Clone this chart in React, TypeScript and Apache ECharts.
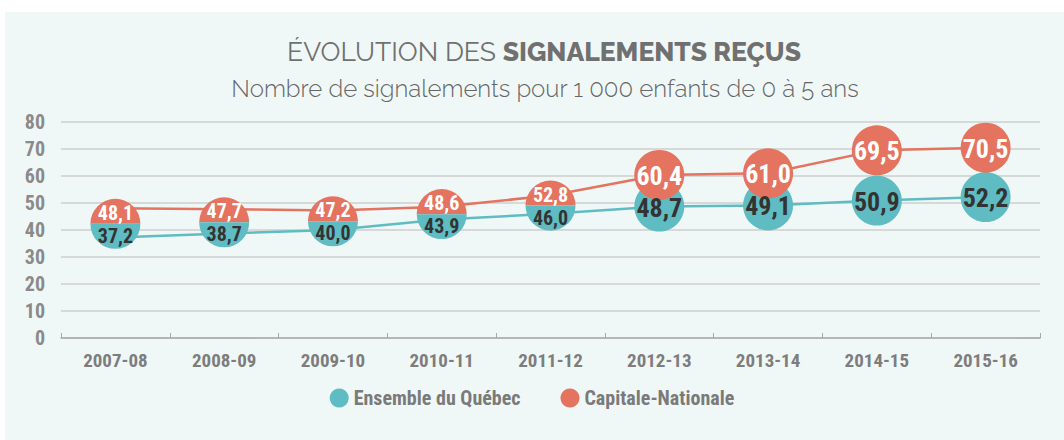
import React, { useEffect, useRef } from "react";
import * as echarts from "echarts";

const categories = ["2007-08", "2008-09", "2009-10", "2010-11", "2011-12", "2012-13", "2013-14", "2014-15", "2015-16"];
const quebec = [37.2, 38.7, 40.0, 43.9, 46.0, 48.7, 49.1, 50.9, 52.2];
const capitale = [48.1, 47.7, 47.2, 48.6, 52.8, 60.4, 61.0, 69.5, 70.5];
const seriesNames = ["Ensemble du Québec", "Capitale-Nationale"];
const yMin = 0;
const yMax = 80;
const yInterval = 10;
const titleLight = "ÉVOLUTION DES ";
const titleBold = "SIGNALEMENTS REÇUS";
const subtitle = "Nombre de signalements pour 1 000 enfants de 0 à 5 ans";

const TEAL = "#5fbcc2";
const RED = "#e4735f";
const COND = "'Roboto Condensed', 'Open Sans Condensed', sans-serif";
const TITLE_FONT = "Raleway, Lato, sans-serif";
const fmt = (v: number) => v.toFixed(1).replace(".", ",");

export default function App() {
  const ref = useRef<HTMLDivElement>(null);
  useEffect(() => {
    if (!ref.current) return;
    const chart = echarts.init(ref.current, null, { renderer: "svg" });
    const R = 25;
    const option: any = {
      animation: false,
      backgroundColor: "#ffffff",
      graphic: [
        {
          type: "rect",
          z: -10,
          silent: true,
          shape: { x: 5, y: 12, width: 1059, height: 428 },
          style: { fill: "#f0f8f7" },
        },
        {
          type: "text",
          x: 544,
          y: 51,
          style: {
            text: "{a|" + titleLight + "}{b|" + titleBold + "}",
            align: "center",
            verticalAlign: "middle",
            rich: {
              a: { fontFamily: TITLE_FONT, fontWeight: 400, fontSize: 26.5, fill: "#707070" },
              b: { fontFamily: TITLE_FONT, fontWeight: 800, fontSize: 26.5, fill: "#707070" },
            },
          },
        },
        {
          type: "text",
          x: 545,
          y: 88,
          style: {
            text: subtitle,
            align: "center",
            verticalAlign: "middle",
            fontFamily: TITLE_FONT,
            fontWeight: 300,
            fontSize: 24,
            fill: "#666666",
          },
        },
      ],
      grid: { left: 61, right: 24, top: 122, bottom: 102 },
      legend: {
        data: seriesNames.map((n) => ({ name: n, icon: "circle" })),
        bottom: 27,
        left: "center",
        itemWidth: 19,
        itemHeight: 19,
        itemGap: 40,
        textStyle: { fontFamily: COND, fontWeight: "bold", fontSize: 20, color: "#7a7a7a" },
      },
      xAxis: {
        type: "category",
        data: categories,
        boundaryGap: true,
        axisLine: { lineStyle: { color: "#a8a8a8", width: 1.5 } },
        axisTick: { show: true, inside: true, length: 5, lineStyle: { color: "#a8a8a8" } },
        axisLabel: { margin: 13, fontFamily: COND, fontWeight: "bold", fontSize: 19, color: "#7d7d7d" },
        splitLine: { show: false },
      },
      yAxis: {
        type: "value",
        min: yMin,
        max: yMax,
        interval: yInterval,
        axisLine: { show: false },
        axisTick: { show: false },
        axisLabel: { margin: 16, fontFamily: COND, fontWeight: "bold", fontSize: 20, color: "#8a8a8a" },
        splitLine: { lineStyle: { color: "#cfcfcf", width: 1.5 } },
      },
      series: [
        {
          name: seriesNames[0],
          type: "line",
          data: quebec,
          symbol: "none",
          color: TEAL,
          lineStyle: { color: TEAL, width: 2.5 },
          z: 2,
        },
        {
          name: seriesNames[1],
          type: "line",
          data: capitale,
          symbol: "none",
          color: RED,
          lineStyle: { color: RED, width: 2.5 },
          z: 2,
        },
        {
          type: "custom",
          z: 5,
          data: categories.map((_, i) => [i, quebec[i], capitale[i]]),
          encode: { x: 0, y: [1, 2] },
          renderItem: (params: any, api: any) => {
            const i = api.value(0);
            const qv = api.value(1);
            const rv = api.value(2);
            const q = api.coord([i, qv]);
            const r = api.coord([i, rv]);
            const merged = rv - qv < 11.5;
            if (merged) {
              const cx = q[0];
              const cy = (q[1] + r[1]) / 2 + 1;
              return {
                type: "group",
                children: [
                  { type: "sector", shape: { cx, cy, r0: 0, r: R, startAngle: Math.PI, endAngle: 2 * Math.PI }, style: { fill: RED } },
                  { type: "sector", shape: { cx, cy, r0: 0, r: R, startAngle: 0, endAngle: Math.PI }, style: { fill: TEAL } },
                  { type: "text", x: cx, y: cy - 11, style: { text: fmt(rv), align: "center", verticalAlign: "middle", fontFamily: COND, fontWeight: "bold", fontSize: 20, fill: "#ffffff" } },
                  { type: "text", x: cx, y: cy + 12, style: { text: fmt(qv), align: "center", verticalAlign: "middle", fontFamily: COND, fontWeight: "bold", fontSize: 20, fill: "#333333" } },
                ],
              };
            }
            return {
              type: "group",
              children: [
                { type: "circle", shape: { cx: q[0], cy: q[1], r: R }, style: { fill: TEAL } },
                { type: "circle", shape: { cx: r[0], cy: r[1], r: R }, style: { fill: RED } },
                { type: "text", x: q[0], y: q[1] + 1, style: { text: fmt(qv), align: "center", verticalAlign: "middle", fontFamily: COND, fontWeight: "bold", fontSize: 26, fill: "#333333" } },
                { type: "text", x: r[0], y: r[1] + 1, style: { text: fmt(rv), align: "center", verticalAlign: "middle", fontFamily: COND, fontWeight: "bold", fontSize: 26, fill: "#ffffff" } },
              ],
            };
          },
        },
      ],
    };
    chart.setOption(option);
    return () => chart.dispose();
  }, []);
  return <div ref={ref} style={{ position: "fixed", left: 0, top: 0, width: 1064, height: 440 }} />;
}
